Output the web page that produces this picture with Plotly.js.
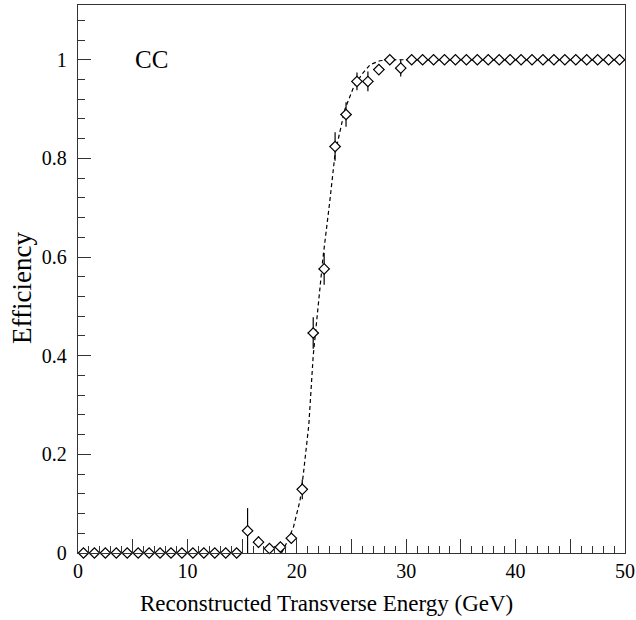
<!DOCTYPE html>
<html>
<head>
<meta charset="utf-8">
<script src="https://cdn.plot.ly/plotly-3.0.1.min.js"></script>
<style>html,body{margin:0;padding:0;background:#fff;}#chart{width:636px;height:620px;}</style>
</head>
<body>
<div id="chart"></div>
<script>
// Bin centres (GeV)
const binCenters = [0.5,1.5,2.5,3.5,4.5,5.5,6.5,7.5,8.5,9.5,10.5,11.5,12.5,13.5,14.5,15.5,16.5,17.5,18.5,19.5,20.5,21.5,22.5,23.5,24.5,25.5,26.5,27.5,28.5,29.5,30.5,31.5,32.5,33.5,34.5,35.5,36.5,37.5,38.5,39.5,40.5,41.5,42.5,43.5,44.5,45.5,46.5,47.5,48.5,49.5];
// Efficiency per bin
const efficiency = [0,0,0,0,0,0,0,0,0,0,0,0,0,0,0,0.045,0.022,0.009,0.012,0.03,0.129,0.446,0.576,0.824,0.889,0.956,0.956,0.98,1.0,0.983,1,1,1,1,1,1,1,1,1,1,1,1,1,1,1,1,1,1,1,1];
// Upper / lower errors
const errUp = [0,0,0,0,0,0,0,0,0,0,0,0,0,0,0,0.046,0.012,0.007,0.007,0.01,0.02,0.032,0.032,0.029,0.025,0.018,0.02,0.01,0,0.017,0,0,0,0,0,0,0,0,0,0,0,0,0,0,0,0,0,0,0,0];
const errDown = [0,0,0,0,0,0,0,0,0,0,0,0,0,0,0,0.045,0.012,0.007,0.007,0.01,0.02,0.032,0.032,0.029,0.025,0.018,0.02,0.01,0.005,0.017,0,0,0,0,0,0,0,0,0,0,0,0,0,0,0,0,0,0,0,0];
const binHalfWidth = 0.5;
// Fit curve points
const fitX = [18.6,19.2,19.7,20.3,20.6,21.1,21.5,21.8,22.4,23.0,23.5,24.4,25.2,26.0,26.7,27.6,28.5,50];
const fitY = [0.0,0.026,0.053,0.107,0.16,0.26,0.40,0.47,0.60,0.71,0.81,0.90,0.945,0.972,0.99,0.998,1.0,1.0];

const xTickVals = [0,5,10,15,20,25,30,35,40,45,50];
const xTickText = ["0","","10","","20","","30","","40","","50"];

const serif = "Liberation Serif, Times New Roman, serif";

const traces = [
  {
    x: fitX, y: fitY, type: 'scatter', mode: 'lines',
    line: {color: '#000', width: 1.2, dash: '4px,3px'},
    hoverinfo: 'skip', showlegend: false
  },
  {
    x: binCenters, y: efficiency, type: 'scatter', mode: 'markers',
    cliponaxis: false,
    marker: {symbol: 'diamond', size: 8, color: '#fff', line: {color: '#000', width: 1.2}},
    error_y: {type: 'data', symmetric: false, array: errUp, arrayminus: errDown, color: '#000', thickness: 1.2, width: 0},
    error_x: {type: 'constant', value: binHalfWidth, color: '#000', thickness: 1, width: 0},
    showlegend: false
  }
];

const layout = {
  width: 636, height: 620,
  margin: {l: 78, r: 11, t: 5, b: 67},
  paper_bgcolor: '#fff', plot_bgcolor: '#fff',
  font: {family: serif, color: '#000', size: 20},
  showlegend: false,
  xaxis: {
    range: [0, 50], tickmode: 'array', tickvals: xTickVals, ticktext: xTickText,
    ticks: 'inside', ticklen: 14, tickwidth: 1, tickcolor: '#333',
    minor: {dtick: 1, ticks: 'inside', ticklen: 7, tickwidth: 1, tickcolor: '#333', showgrid: false},
    showline: true, linecolor: '#333', linewidth: 1.3, mirror: true,
    showgrid: false, zeroline: false,
    tickfont: {family: serif, size: 20, color: '#000'}
  },
  yaxis: {
    range: [0, 1.111], tickmode: 'linear', tick0: 0, dtick: 0.2,
    ticks: 'inside', ticklen: 13, tickwidth: 1, tickcolor: '#333',
    minor: {dtick: 0.04, ticks: 'inside', ticklen: 7, tickwidth: 1, tickcolor: '#333', showgrid: false},
    showline: true, linecolor: '#333', linewidth: 1.3, mirror: true,
    showgrid: false, zeroline: false,
    ticklabelstandoff: 6,
    tickfont: {family: serif, size: 20, color: '#000'}
  },
  annotations: [
    {x: 5.0, y: 1.0, xref: 'x', yref: 'y', xanchor: 'left', yanchor: 'middle', text: 'CC', showarrow: false, font: {family: serif, size: 25, color: '#000'}},
    {x: 326, y: 620 - 603, xref: 'paper', yref: 'paper', text: 'Reconstructed Transverse Energy (GeV)', showarrow: false, font: {family: serif, size: 23, color: '#000'}}
  ]
};

// Title annotations positioned in pixels, converted to paper fractions
const plotW = 636 - 78 - 11, plotH = 620 - 5 - 67;
layout.annotations[1].x = (326 - 78) / plotW;
layout.annotations[1].y = (553 - 603) / plotH;
layout.annotations[1].xanchor = 'center';
layout.annotations[1].yanchor = 'middle';
layout.annotations.push({
  x: (22 - 78) / plotW, y: (553 - 288) / plotH, xref: 'paper', yref: 'paper',
  text: 'Efficiency', textangle: -90, showarrow: false, xanchor: 'center', yanchor: 'middle',
  font: {family: serif, size: 27, color: '#000'}
});

Plotly.newPlot('chart', traces, layout, {displayModeBar: false, staticPlot: true});
</script>
</body>
</html>
